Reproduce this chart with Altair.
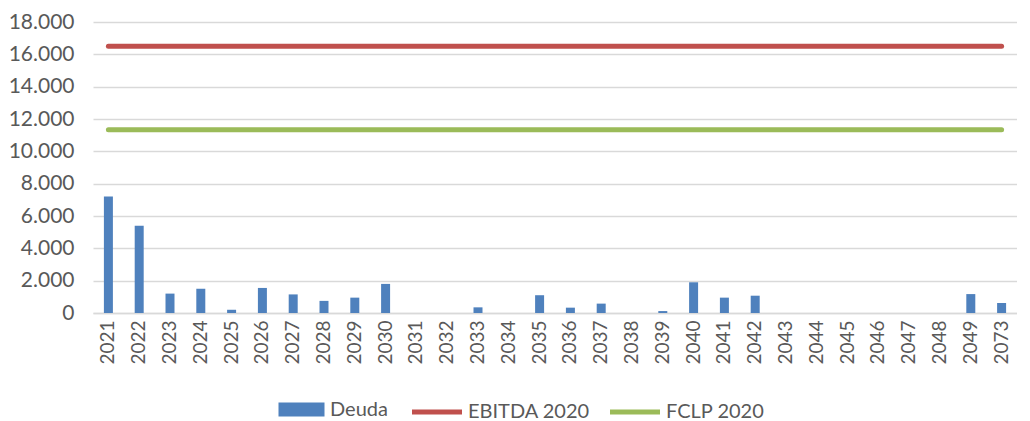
import altair as alt
import pandas as pd

years = ["2021", "2022", "2023", "2024", "2025", "2026", "2027", "2028", "2029", "2030",
         "2031", "2032", "2033", "2034", "2035", "2036", "2037", "2038", "2039", "2040",
         "2041", "2042", "2043", "2044", "2045", "2046", "2047", "2048", "2049", "2073"]
deuda = [7200, 5400, 1200, 1500, 200, 1550, 1150, 750, 950, 1800,
         0, 0, 350, 0, 1100, 330, 580, 0, 120, 1900,
         950, 1070, 0, 0, 0, 0, 0, 0, 1170, 620]
ebitda_2020 = 16500
fclp_2020 = 11330

bar_names = ["Deuda"]
bar_colors = ["#4F81BD"]
line_names = ["EBITDA 2020", "FCLP 2020"]
line_colors = ["#C0504D", "#9BBB59"]
y_ticks = [0, 2000, 4000, 6000, 8000, 10000, 12000, 14000, 16000, 18000]

df_bar = pd.DataFrame({"year": years, "value": deuda, "series": "Deuda"})
df_line = pd.concat([
    pd.DataFrame({"year": years, "value": [ebitda_2020] * len(years), "series": "EBITDA 2020"}),
    pd.DataFrame({"year": years, "value": [fclp_2020] * len(years), "series": "FCLP 2020"}),
])

FONT = "Lato"
TXT = "#595959"
RECT = "M-2,-0.6H2V0.6H-2Z"
STROKE = "M-2,0H2"

x_enc = alt.X("year:N", sort=years, title=None,
              scale=alt.Scale(paddingInner=0, paddingOuter=0),
              axis=alt.Axis(labelAngle=-90, labelFontSize=19, labelFont=FONT, labelColor=TXT,
                            ticks=False, domainColor="#d9d9d9", domainWidth=1.5,
                            labelPadding=7, grid=False, labelBaseline="middle", labelAlign="right"))
y_enc = alt.Y("value:Q", title=None,
              scale=alt.Scale(domain=[0, 18000], nice=False),
              axis=alt.Axis(values=y_ticks, labelFontSize=21, labelFont=FONT, labelColor=TXT,
                            labelExpr="replace(format(datum.value, ',.0f'), ',', '.')",
                            ticks=False, domain=False, gridColor="#d9d9d9", gridWidth=1.5,
                            labelPadding=19))

fill_enc = alt.Fill("series:N", scale=alt.Scale(domain=bar_names, range=bar_colors),
                    legend=alt.Legend(orient="none", legendX=197, legendY=376, direction="horizontal",
                                      title=None, labelFontSize=20, labelFont=FONT, labelColor=TXT,
                                      symbolSize=529, symbolType=RECT, labelOffset=17,
                                      symbolOpacity=1, symbolStrokeWidth=0))
stroke_enc = alt.Stroke("series:N", scale=alt.Scale(domain=line_names, range=line_colors),
                        legend=alt.Legend(orient="none", legendX=329, legendY=375, direction="horizontal",
                                          title=None, labelFontSize=20, labelFont=FONT, labelColor=TXT,
                                          symbolSize=625, symbolType=STROKE, symbolStrokeWidth=5,
                                          labelOffset=16, columnPadding=10))

bars = alt.Chart(df_bar).mark_bar(size=9).encode(x=x_enc, y=y_enc, fill=fill_enc)
lines = alt.Chart(df_line).mark_line(strokeWidth=5, strokeCap="round").encode(
    x=x_enc, y=y_enc, stroke=stroke_enc, detail="series:N")

chart = alt.layer(bars, lines).properties(
    width=924, height=291,
    padding={"left": 0, "top": 3, "right": 0, "bottom": 0},
).configure_view(stroke=None)

chart.save("out.html", embed_options={"renderer": "svg", "actions": False})
